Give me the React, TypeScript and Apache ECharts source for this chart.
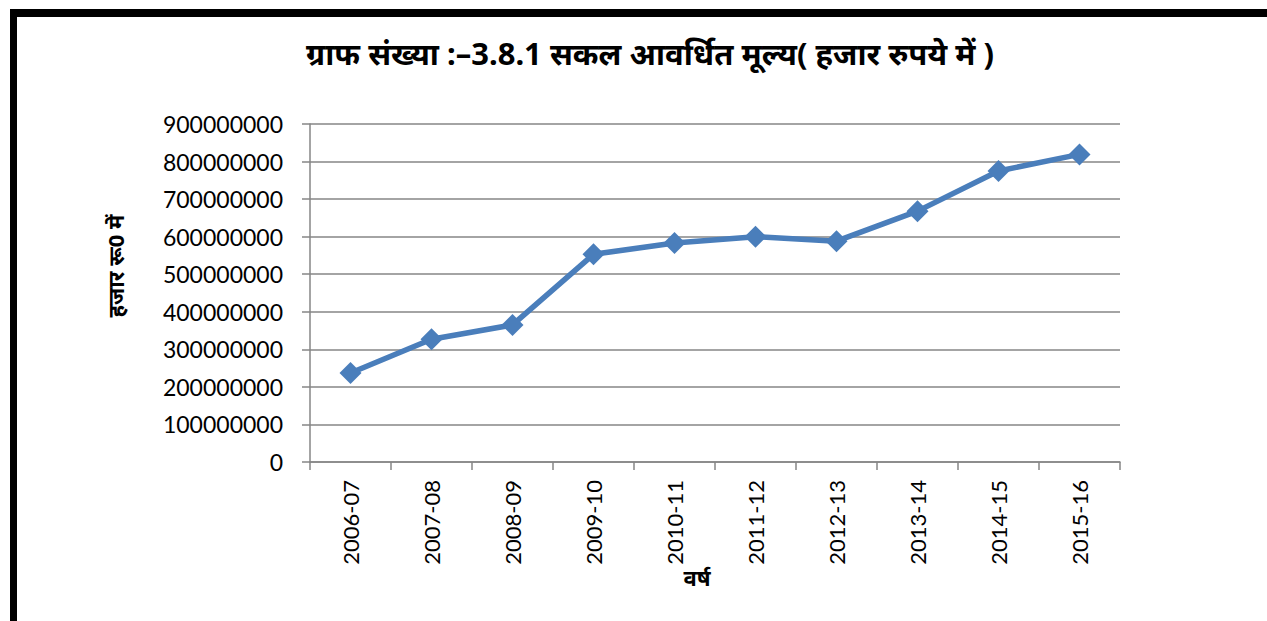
import React, { useEffect, useRef } from "react";
import * as echarts from "echarts";

const categories = ["2006-07", "2007-08", "2008-09", "2009-10", "2010-11", "2011-12", "2012-13", "2013-14", "2014-15", "2015-16"];
const values = [237000000, 327000000, 365000000, 553000000, 583000000, 600000000, 588000000, 668000000, 775000000, 819000000];
const titleText = "ग्राफ संख्या :–3.8.1 सकल आवर्धित मूल्य( हजार रुपये में )";
const yAxisName = "हजार रू0 में";
const xAxisName = "वर्ष";

export default function App() {
  const ref = useRef<HTMLDivElement>(null);
  useEffect(() => {
    const chart = echarts.init(ref.current!, null, { renderer: "svg" });
    chart.setOption({
      animation: false,
      backgroundColor: "#ffffff",
      title: {
        text: titleText,
        left: 645,
        textAlign: "center",
        top: 32,
        textStyle: { fontSize: 31, fontWeight: "bold", color: "#000", fontFamily: "Noto Sans, sans-serif" },
      },
      graphic: [
        { type: "rect", shape: { x: 10, y: 9, width: 1257, height: 8 }, style: { fill: "#000" } },
        { type: "rect", shape: { x: 10, y: 9, width: 7, height: 612 }, style: { fill: "#000" } },
        {
          type: "text",
          x: 115,
          y: 266,
          rotation: Math.PI / 2,
          style: { text: yAxisName, fill: "#000", font: "bold 22px 'Noto Sans', sans-serif", align: "center", verticalAlign: "middle" },
        },
        {
          type: "text",
          x: 697,
          y: 577,
          style: { text: xAxisName, fill: "#000", font: "bold 22px 'Noto Sans', sans-serif", align: "center", verticalAlign: "middle" },
        },
      ],
      grid: { left: 310, top: 124, right: 147, bottom: 159, containLabel: false },
      xAxis: {
        type: "category",
        data: categories,
        boundaryGap: true,
        axisLine: { lineStyle: { color: "#868686", width: 1.5 } },
        axisTick: { show: true, length: 8, alignWithLabel: false, lineStyle: { color: "#868686", width: 1.5 } },
        axisLabel: { rotate: 90, fontSize: 22, color: "#000", fontFamily: "Lato, sans-serif", margin: 18, interval: 0 },
      },
      yAxis: {
        type: "value",
        min: 0,
        max: 900000000,
        interval: 100000000,
        axisLine: { show: true, lineStyle: { color: "#868686", width: 1.5 } },
        axisTick: { show: true, length: 8, lineStyle: { color: "#868686", width: 1.5 } },
        splitLine: { lineStyle: { color: "#868686", width: 1.5 } },
        axisLabel: { fontSize: 23, color: "#000", fontFamily: "Lato, sans-serif", margin: 27, formatter: (v: number) => String(v) },
      },
      series: [
        {
          type: "line",
          data: values,
          symbol: "diamond",
          symbolSize: 22,
          itemStyle: { color: "#4A7EBB" },
          lineStyle: { color: "#4A7EBB", width: 5.5 },
        },
      ],
    });
    return () => chart.dispose();
  }, []);
  return <div ref={ref} style={{ position: "absolute", left: 0, top: 0, width: 1267, height: 621 }} />;
}
